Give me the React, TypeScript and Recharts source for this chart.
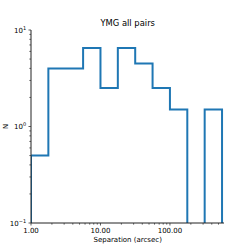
import React from 'react';
import { ComposedChart, Line, XAxis, YAxis, Customized } from 'recharts';

// Histogram (log-spaced bins, step style)
const binEdges = [1, 1.778, 3.162, 5.623, 10, 17.78, 31.62, 56.23, 100, 177.8, 316.2, 562.3];
const binCounts = [0.5, 4, 4, 6.5, 2.5, 6.5, 4.5, 2.5, 1.5, 0, 1.5];

const xMajorTicks = [1, 10, 100];
const xMinorTicks = [2, 3, 4, 5, 6, 7, 8, 9, 20, 30, 40, 50, 60, 70, 80, 90, 200, 300, 400, 500];
const xTickLabels: Record<number, string> = { 1: '1.00', 10: '10.00', 100: '100.00' };

const yMajorTicks = [0.1, 1, 10];
const yMinorTicks = [0.2, 0.3, 0.4, 0.5, 0.6, 0.7, 0.8, 0.9, 2, 3, 4, 5, 6, 7, 8, 9];
const yTickExponents: Record<string, string> = { '0.1': '\u22121', '1': '0', '10': '1' };

const title = 'YMG all pairs';
const xLabel = 'Separation (arcsec)';
const yLabel = 'N';

const FLOOR = 0.01; // below the axis floor, clipped (empty bins)

const stepData = (() => {
  const pts: { x: number; y: number }[] = [{ x: binEdges[0], y: FLOOR }];
  binCounts.forEach((c, i) => pts.push({ x: binEdges[i], y: c > 0 ? c : FLOOR }));
  const last = binEdges[binEdges.length - 1];
  pts.push({ x: last, y: binCounts[binCounts.length - 1] || FLOOR });
  pts.push({ x: last, y: FLOOR });
  return pts;
})();

const FONT = 'DejaVu Sans, sans-serif';
const W = 250;
const H = 250;
const M = { top: 30, right: 26, left: 0, bottom: 0 };
const Y_AXIS_W = 31;
const X_AXIS_H = 27;

const XTick = (props: any) => {
  const { x, y, payload } = props;
  const v = payload.value;
  const major = xMajorTicks.includes(v);
  return (
    <g>
      <line x1={x} x2={x} y1={y} y2={y + (major ? 2.5 : 1.6)} stroke="#333" strokeWidth={0.8} />
      {major && (
        <text x={x} y={y + 10.3} textAnchor="middle" fontFamily={FONT} fontSize={7} fill="#000">
          {xTickLabels[v]}
        </text>
      )}
    </g>
  );
};

const YTick = (props: any) => {
  const { x, y, payload } = props;
  const v = payload.value;
  const major = yMajorTicks.includes(v);
  return (
    <g>
      <line x1={x} x2={x - (major ? 2.5 : 1.6)} y1={y} y2={y} stroke="#333" strokeWidth={0.8} />
      {major && (
        <text x={x - 4.9} y={y + 2.5} textAnchor="end" fontFamily={FONT} fontSize={7} fill="#000">
          10
          <tspan fontSize={5} dy={-3}>{yTickExponents[String(v)]}</tspan>
        </text>
      )}
    </g>
  );
};

const Texts = () => (
  <g>
    <text x={127.7} y={26.2} textAnchor="middle" fontFamily={FONT} fontSize={8.4} fill="#000">
      {title}
    </text>
    <text x={127.7} y={242} textAnchor="middle" fontFamily={FONT} fontSize={7} fill="#000">
      {xLabel}
    </text>
    <text
      x={8}
      y={126.4}
      textAnchor="middle"
      fontFamily={FONT}
      fontSize={7}
      fill="#000"
      transform="rotate(-90 8 126.4)"
    >
      {yLabel}
    </text>
  </g>
);

export default function App() {
  return (
    <div style={{ position: 'absolute', left: 0, top: 0, width: W, height: H, background: '#fff' }}>
      <ComposedChart width={W} height={H} data={stepData} margin={M}>
        <XAxis
          dataKey="x"
          type="number"
          scale="log"
          domain={[1, 600]}
          allowDataOverflow
          ticks={[...xMajorTicks, ...xMinorTicks]}
          interval={0}
          tick={<XTick />}
          tickSize={0}
          tickMargin={0}
          tickLine={false}
          height={X_AXIS_H}
          axisLine={{ stroke: '#222', strokeWidth: 1 }}
        />
        <XAxis
          xAxisId="top"
          orientation="top"
          dataKey="x"
          type="number"
          scale="log"
          domain={[1, 600]}
          allowDataOverflow
          tick={false}
          tickLine={false}
          height={0}
          axisLine={{ stroke: '#999', strokeWidth: 1.2 }}
        />
        <YAxis
          type="number"
          scale="log"
          domain={[0.1, 10]}
          allowDataOverflow
          ticks={[...yMajorTicks, ...yMinorTicks]}
          interval={0}
          tick={<YTick />}
          tickSize={0}
          tickMargin={0}
          tickLine={false}
          width={Y_AXIS_W}
          axisLine={{ stroke: '#222', strokeWidth: 1 }}
        />
        <YAxis
          yAxisId="right"
          orientation="right"
          type="number"
          scale="log"
          domain={[0.1, 10]}
          allowDataOverflow
          tick={false}
          tickLine={false}
          width={0}
          axisLine={{ stroke: '#999', strokeWidth: 1.2 }}
        />
        <Line
          dataKey="y"
          type="stepAfter"
          stroke="#1f77b4"
          strokeWidth={2}
          dot={false}
          activeDot={false}
          isAnimationActive={false}
        />
        <Customized component={Texts} />
      </ComposedChart>
    </div>
  );
}
